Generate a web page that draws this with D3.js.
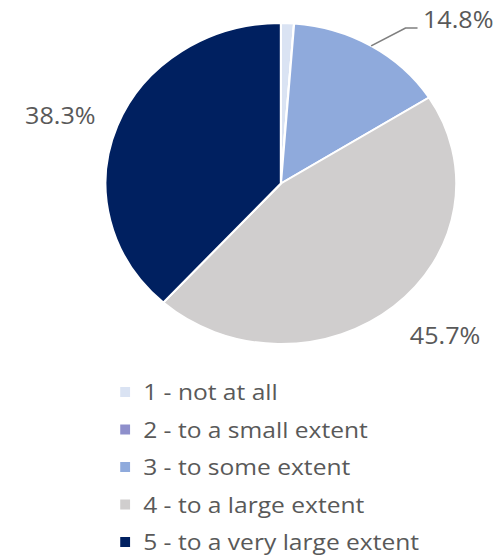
<!DOCTYPE html>
<html>
<head>
<meta charset="utf-8">
<script src="https://cdn.jsdelivr.net/npm/d3@7"></script>
<style>
  body { margin: 0; background: #fff; }
  text { font-family: "Open Sans", sans-serif; fill: #595959; }
</style>
</head>
<body>
<div id="chart"></div>
<script>
// ---------------------------------------------------------------------------
// DATA
// ---------------------------------------------------------------------------
const categories = [
  "1 - not at all",
  "2 - to a small extent",
  "3 - to some extent",
  "4 - to a large extent",
  "5 - to a very large extent"
];
const shares = [1.2, 0.0, 14.8, 45.7, 38.3];
const sliceColors = ["#dae3f3", "#8e8fcb", "#8faadc", "#d0cece", "#002060"];

// ---------------------------------------------------------------------------
// LAYOUT
// ---------------------------------------------------------------------------
const W = 498, H = 557;
const stretch = 1.093;          // reference picture is a bit wider than tall
const cx = 257, cy = 183.5, r = 160.5;

// label placement for the visible percentages (keyed by category index)
const labelPos = {
  2: { x: 387, y: 28, anchor: "start", leader: true },
  3: { x: 375, y: 344, anchor: "start" },
  4: { x: 23, y: 124, anchor: "start" }
};

const svg = d3.select("#chart")
  .append("svg")
  .attr("width", W)
  .attr("height", H);

const root = svg.append("g")
  .attr("transform", `scale(${stretch},1)`);

const pie = d3.pie().sort(null).value(d => d.value);
const arcs = pie(categories.map((c, i) => ({ name: c, value: shares[i], i })));

const arc = d3.arc().innerRadius(0).outerRadius(r);

const pieG = root.append("g")
  .attr("transform", `translate(${cx},${cy})`);

pieG.selectAll("path")
  .data(arcs)
  .join("path")
  .attr("d", arc)
  .attr("fill", d => sliceColors[d.data.i])
  .attr("stroke", "#fff")
  .attr("stroke-width", 2)
  .attr("stroke-linejoin", "round");

// percentage labels
arcs.forEach(a => {
  const p = labelPos[a.data.i];
  if (!p) return;
  root.append("text")
    .attr("x", p.x)
    .attr("y", p.y)
    .attr("text-anchor", p.anchor)
    .style("font-size", "23px")
    .text(a.data.value.toFixed(1) + "%");

  if (p.leader) {
    const mid = (a.startAngle + a.endAngle) / 2;
    const sx = cx + r * Math.sin(mid), sy = cy - r * Math.cos(mid);
    root.append("polyline")
      .attr("points", `${sx},${sy} ${p.x - 16},${p.y} ${p.x - 5},${p.y}`)
      .attr("fill", "none")
      .attr("stroke", "#7f7f7f")
      .attr("stroke-width", 1.5);
  }
});

// ---------------------------------------------------------------------------
// LEGEND
// ---------------------------------------------------------------------------
const legend = root.append("g")
  .attr("transform", "translate(110,400)");

categories.forEach((c, i) => {
  const row = legend.append("g")
    .attr("transform", `translate(0,${i * 37.5})`);
  row.append("rect")
    .attr("x", 0)
    .attr("y", -13)
    .attr("width", 9)
    .attr("height", 10)
    .attr("fill", sliceColors[i]);
  row.append("text")
    .attr("x", 21)
    .attr("y", 0)
    .style("font-size", "22.5px")
    .text(c);
});
</script>
</body>
</html>
